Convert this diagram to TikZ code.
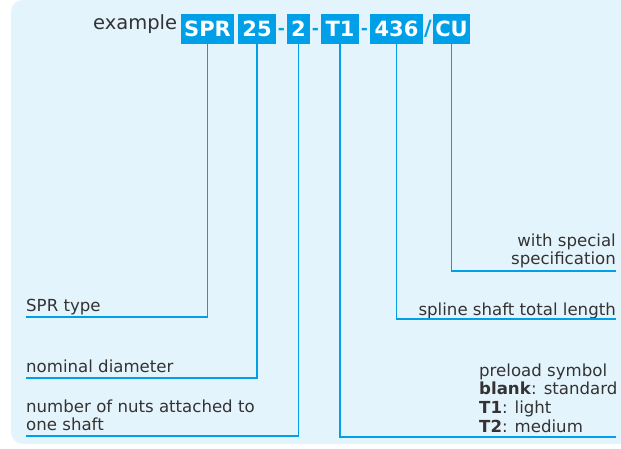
\documentclass[tikz,border=0pt]{standalone}
\usepackage{fontspec}
\setmainfont{DejaVu Sans}
\definecolor{cy}{RGB}{0,160,233}
\definecolor{panel}{RGB}{228,244,252}
\definecolor{txt}{RGB}{51,51,51}
\begin{document}
\begin{tikzpicture}[x=1pt,y=-1pt,
  code/.style={fill=cy,text=white,font=\fontsize{21}{21}\selectfont\bfseries,minimum height=30pt,inner sep=0pt},
  sepch/.style={text=cy,font=\fontsize{17}{17}\selectfont\bfseries,inner sep=0pt},
  lbl/.style={text=txt,font=\fontsize{16.6}{18}\selectfont,inner sep=0pt},
  conn/.style={draw=cy,line width=1.4pt}]
\useasboundingbox (0,0) rectangle (621,449);
\fill[white] (0,0) rectangle (621,449);
\begin{scope}
\clip (0,0) rectangle (621,449);
\fill[panel,rounded corners=12pt] (11,0) rectangle (650,444);
\end{scope}
% example code
\node[lbl,font=\fontsize{19.5}{20}\selectfont,anchor=base west] (ex) at (93,30) {example};
\node[code,minimum width=53pt] (spr) at (207.5,29) {SPR};
\node[code,minimum width=38pt] (d25) at (257,29) {25};
\node[sepch] (s1) at (281.5,31) {-};
\node[code,minimum width=23pt] (n2) at (298.5,29) {2};
\node[sepch] (s2) at (315.5,31) {-};
\node[code,minimum width=38pt] (t1) at (340,29) {T1};
\node[sepch] (s3) at (364.5,31) {-};
\node[code,minimum width=53pt] (l436) at (396.5,29) {436};
\node[sepch,font=\fontsize{21}{21}\selectfont\bfseries] (sl) at (428,29) {/};
\node[code,minimum width=37pt] (cu) at (451.5,29) {CU};
% labels
\node[lbl,anchor=base west] (lspr) at (26,311) {SPR type};
\node[lbl,anchor=base west] (lnom) at (26,372) {nominal diameter};
\node[lbl,anchor=base west] (lnum1) at (26,412) {number of nuts attached to};
\node[lbl,anchor=base west] (lnum2) at (26,430) {one shaft};
\node[lbl,anchor=base east] (lsp1) at (616,247) {with special};
\node[lbl,anchor=base east] (lsp2) at (616,264) {specification};
\node[lbl,anchor=base east] (llen) at (616,315) {spline shaft total length};
\node[lbl,anchor=base west] (pre1) at (479,376) {preload symbol};
\node[lbl,anchor=base west] (pre2) at (479,394) {\textbf{blank}: standard};
\node[lbl,anchor=base west] (pre3) at (479,413) {\textbf{T1}: light};
\node[lbl,anchor=base west] (pre4) at (479,432) {\textbf{T2}: medium};
% connector ends
\coordinate (e1) at (26,317);
\coordinate (e2) at (26,378);
\coordinate (e3) at (26,436);
\coordinate (e4) at (616,437);
\coordinate (e5) at (616,319);
\coordinate (e6) at (616,271);
\draw[conn] (spr.south) |- (e1);
\draw[conn] (d25.south) |- (e2);
\draw[conn] (n2.south) |- (e3);
\draw[conn] (t1.south) |- (e4);
\draw[conn] (l436.south) |- (e5);
\draw[conn] (cu.south) |- (e6);
\end{tikzpicture}
\end{document}
